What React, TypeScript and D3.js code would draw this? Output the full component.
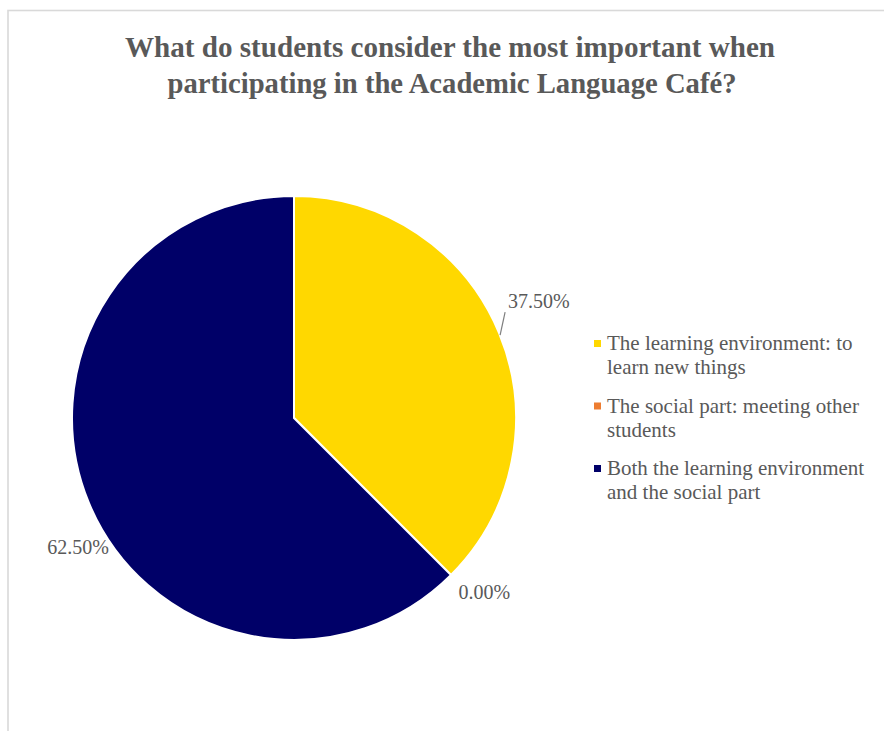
import React from "react";
import * as d3 from "d3";

const titleLines = [
  "What do students consider the most important when",
  "participating in the Academic Language Café?",
];
const categories = [
  "The learning environment: to learn new things",
  "The social part: meeting other students",
  "Both the learning environment and the social part",
];
const legendLines = [
  ["The learning environment: to", "learn new things"],
  ["The social part: meeting other", "students"],
  ["Both the learning environment", "and the social part"],
];
const values = [37.5, 0, 62.5];
const labels = ["37.50%", "0.00%", "62.50%"];
const colors = ["#FFD800", "#ED7D31", "#000068"];

const W = 884;
const H = 731;
const cx = 294;
const cy = 418;
const R = 222;

export default function App() {
  const pie = d3.pie<number>().sort(null).value((d) => d)(values);
  const arc = d3.arc<d3.PieArcDatum<number>>().innerRadius(0).outerRadius(R);
  const polar = (a: number, r: number) => [cx + r * Math.sin(a), cy - r * Math.cos(a)];

  const labelPlace = [
    { da: -5, r: 238, anchor: "start", dx: 3, dy: 0, leader: true },
    { da: -2.5, r: 258, anchor: "middle", dx: 0, dy: 7, leader: false },
    { da: -8.5, r: 252, anchor: "middle", dx: 0, dy: 6, leader: false },
  ];

  return (
    <svg width={W} height={H} style={{ position: "absolute", left: 0, top: 0 }}>
      <rect x={0} y={0} width={W} height={H} fill="#fff" />
      <rect x={8} y={10.5} width={W + 20} height={H + 20} fill="none" stroke="#d9d9d9" strokeWidth={1.6} />
      <g fontFamily="Liberation Serif" fontWeight="bold" fill="#595959" fontSize={29} textAnchor="middle">
        <text x={450} y={57} textLength={650} lengthAdjust="spacingAndGlyphs">{titleLines[0]}</text>
        <text x={452} y={93} textLength={569} lengthAdjust="spacingAndGlyphs">{titleLines[1]}</text>
      </g>
      <g transform={`translate(${cx},${cy})`}>
        {pie.map((p, i) => (
          <path key={categories[i]} d={arc(p) || ""} fill={colors[i]} stroke="#fff" strokeWidth={2} />
        ))}
      </g>
      {pie.map((p, i) => {
        const mid = (p.startAngle + p.endAngle) / 2;
        const lp = labelPlace[i];
        const a = mid + (lp.da * Math.PI) / 180;
        const [x, y] = polar(a, lp.r);
        const [ex, ey] = polar(mid, R);
        return (
          <g key={labels[i]}>
            {lp.leader && (
              <line x1={ex + 1} y1={ey + 2} x2={x} y2={y + 4} stroke="#7f7f7f" strokeWidth={1.2} />
            )}
            <text
              x={x + lp.dx}
              y={y + lp.dy}
              textAnchor={lp.anchor as any}
              fontFamily="Liberation Serif"
              fontSize={20}
              fill="#595959"
            >
              {labels[i]}
            </text>
          </g>
        );
      })}
      {legendLines.map((lines, i) => {
        const y0 = 350 + i * 62.5;
        return (
          <g key={categories[i]}>
            <rect x={594} y={y0 - 10} width={7} height={7} fill={colors[i]} />
            {lines.map((t, j) => (
              <text key={t} x={607} y={y0 + j * 24} fontFamily="Liberation Serif" fontSize={21} fill="#595959">
                {t}
              </text>
            ))}
          </g>
        );
      })}
    </svg>
  );
}
